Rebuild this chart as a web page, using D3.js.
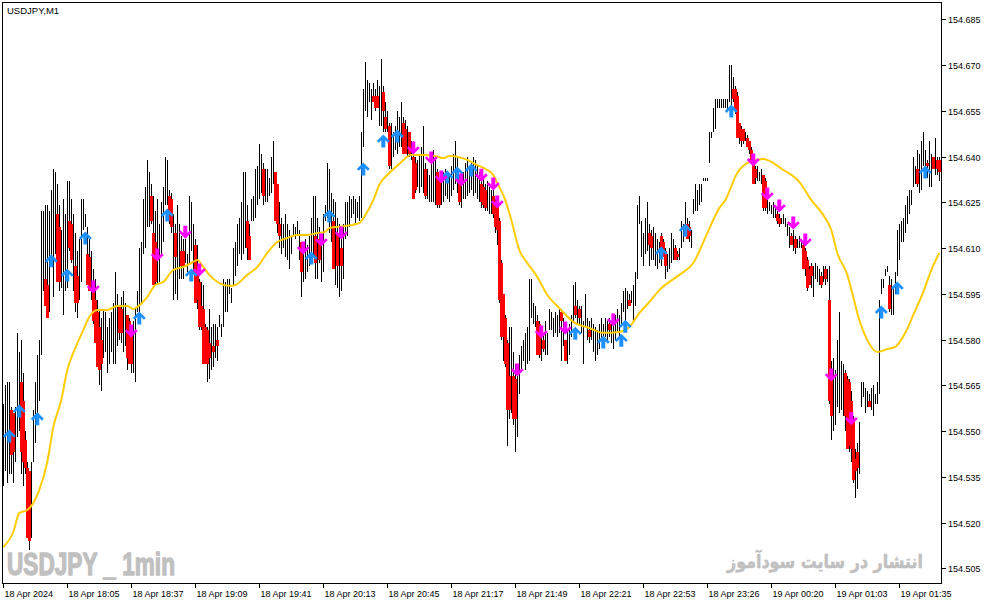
<!DOCTYPE html>
<html><head><meta charset="utf-8">
<script src="https://cdn.jsdelivr.net/npm/d3@7"></script>
<style>body{margin:0;background:#fff;}svg{display:block}</style>
</head><body>
<svg id="c" width="987" height="605"></svg>
<script>
// price = BASE + pts * PT
const BASE = 154.500, PT = 0.001;
const symbolTitle = "USDJPY,M1";
const highPts = [
59,65,66,66,58,55,58,82,76,80,
69,50,40,37,40,57,66,75,80,122,
122,124,124,122,129,136,135,131,124,116,
126,121,132,132,126,121,115,109,113,126,
126,121,117,113,109,103,100,93,90,87,
90,89,84,87,89,92,102,95,91,94,
96,92,88,87,84,86,90,96,110,112,
126,130,139,135,131,127,122,126,118,125,
130,140,139,129,128,121,118,124,118,114,
113,113,108,127,125,118,113,111,100,99,
98,85,84,90,84,85,85,84,88,85,
100,99,100,100,97,110,112,118,120,125,
135,135,124,118,126,127,136,137,144,141,
138,136,136,133,140,145,135,131,125,120,
118,121,118,116,114,118,117,119,116,112,
108,113,111,114,120,127,127,120,117,112,
121,124,138,136,128,126,125,120,118,115,
118,125,125,127,126,127,126,125,127,148,
162,171,165,164,162,164,162,165,163,172,
163,158,155,151,151,148,150,155,153,158,
153,152,150,148,145,144,140,139,141,143,
150,138,136,134,140,142,139,136,133,134,
135,136,135,134,137,141,145,140,134,132,
135,138,140,137,138,140,139,137,135,134,
133,131,132,130,129,129,126,125,120,106,
95,88,80,84,84,76,72,70,75,78,
80,82,84,100,100,92,91,88,86,84,
82,86,82,90,89,87,89,88,90,90,
87,80,83,85,88,98,99,93,91,91,
86,95,87,86,87,85,84,83,85,87,
85,87,86,87,86,86,88,90,88,92,
96,97,96,95,96,98,102,124,127,119,
115,120,125,118,116,117,115,113,112,115,
113,110,108,110,115,113,111,109,110,119,
118,125,120,119,116,126,131,129,131,131,
133,133,133,148,148,156,159,159,159,159,
159,159,159,170,170,166,163,161,151,150,
149,148,147,145,143,140,137,137,135,136,
134,133,126,125,124,125,123,122,121,120,
121,120,118,117,115,116,114,113,114,113,
112,110,107,104,105,104,105,104,103,102,
104,104,103,104,73,74,70,80,89,73,
72,70,68,67,63,55,44,46,53,66,
66,64,63,62,64,65,62,66,93,100,
100,103,104,101,100,97,102,116,118,119,
120,124,127,129,129,140,137,142,141,145,
148,142,139,145,141,140,146,140,140];
const lowPts = [
32,37,33,36,36,33,40,48,50,36,
32,36,15,11,15,40,46,53,60,75,
96,91,87,89,106,94,108,99,96,97,
88,96,97,109,105,96,89,87,93,99,
116,117,98,96,93,85,79,71,65,63,
74,76,69,72,76,72,72,78,80,79,
76,78,70,72,69,69,66,89,85,92,
108,110,117,117,118,98,98,98,99,107,
112,124,124,118,115,93,95,93,100,100,
100,105,102,105,109,102,92,90,83,83,
72,72,66,67,70,71,74,73,84,81,
84,89,89,95,92,98,101,104,108,106,
108,110,106,106,119,119,120,124,126,128,
124,125,125,127,128,131,119,115,110,108,
110,107,106,103,108,114,113,114,106,94,
99,100,102,104,106,108,100,100,105,99,
102,119,120,115,112,106,98,97,94,96,
100,113,114,117,120,121,118,120,119,120,
143,155,153,158,152,158,155,156,150,150,
148,148,148,136,136,140,142,141,143,143,
141,141,140,140,139,126,128,130,128,130,
128,126,126,125,125,125,124,123,123,124,
125,127,126,125,127,129,131,128,124,123,
126,126,127,128,129,127,128,126,125,123,
123,122,122,121,121,120,115,111,92,80,
73,71,45,54,56,52,43,48,62,70,
73,70,72,73,87,85,84,76,74,73,
76,75,75,83,83,81,82,81,82,73,
78,73,72,75,81,86,87,85,85,82,
72,84,80,79,80,76,73,75,77,80,
80,81,79,81,79,77,80,82,81,85,
89,85,90,92,92,86,91,100,118,107,
104,108,109,104,106,106,104,103,105,104,
107,100,102,103,105,106,106,106,106,110,
112,118,113,112,110,121,122,122,124,125,
132,132,132,138,146,148,149,156,156,156,
156,156,155,158,155,158,154,146,144,143,
144,145,143,141,138,131,131,132,132,131,
122,122,121,122,121,120,120,118,117,118,
118,117,114,110,112,109,108,110,110,110,
103,101,96,98,97,94,100,99,98,97,
99,98,99,59,47,50,52,58,56,57,
55,50,44,43,40,33,28,31,36,58,
61,56,58,58,57,55,59,59,62,95,
97,101,102,89,88,88,95,101,106,112,
112,115,118,121,124,130,131,130,128,129,
137,135,133,130,130,136,134,134,132];
// [bar index, top pts, bottom pts] of the red bodies
const redBars = [
[4,57,42],[5,56,43],[9,66,43],[10,60,40],[11,47,38],[12,38,15],[13,37,14],
[21,100,91],[22,98,87],[27,121,99],[28,117,99],[33,119,110],[34,118,106],[36,104,92],[37,101,92],
[42,108,98],[43,107,96],[45,98,86],[46,93,79],[47,89,71],[48,84,70],[49,80,72],
[58,91,82],[59,90,82],[62,88,74],[63,86,72],[64,82,72],
[74,127,119],[75,115,98],[76,112,99],[83,127,119],[84,126,117],[86,115,107],[89,109,104],[90,109,104],
[96,111,92],[97,104,93],[98,99,84],[99,91,84],[100,90,72],[101,84,72],[102,83,72],[103,79,74],[105,78,76],[107,80,78],
[122,119,110],[123,114,106],[130,136,127],[136,135,119],[137,131,118],[138,118,114],
[149,112,102],[156,114,105],[158,113,106],[165,119,103],[167,115,104],[169,110,104],
[185,160,158],[186,160,156],[187,160,156],[190,161,155],[191,153,149],[193,150,137],
[200,151,141],[201,149,141],[203,148,141],[205,140,126],[206,138,129],[211,136,127],[217,135,124],[218,132,124],
[228,133,125],[239,131,125],[240,130,124],[241,129,123],
[245,127,121],[246,125,117],[247,124,116],[248,119,93],[249,105,81],[250,95,81],[251,87,72],[252,79,57],[253,68,57],[255,68,54],[256,67,54],
[267,86,75],[268,85,75],[270,80,77],[279,89,86],[281,80,73],[286,91,88],[288,90,87],[293,83,81],[303,85,83],[313,93,91],
[323,115,111],[324,114,110],[329,114,110],[330,112,107],[331,109,104],[336,110,106],[337,108,107],[342,118,113],[343,117,114],
[365,162,159],[366,162,155],[367,160,146],[368,151,146],[369,149,145],[370,149,145],[372,146,143],[373,145,142],[374,142,138],[375,138,131],[376,136,133],
[380,134,123],[381,132,123],[387,121,119],[388,120,118],[394,114,111],[396,113,110],
[400,111,103],[401,109,103],[402,106,97],[403,103,98],[404,104,101],[409,101,98],[411,103,100],
[413,93,60],[414,70,55],[421,69,55],[422,67,44],[423,66,45],[424,60,44],[425,54,34],[426,41,37],[427,43,38],[433,60,58],
[443,98,90],[457,136,131],[462,138,137],[465,140,136],[467,139,136],[468,139,135]];
// moving average, read at these bar indices
const maIdx = [0,5,8,12,15,18,22,25,29,32,36,40,43,47,52,57,62,65,67,72,76,80,85,90,94,97,100,103,108,113,116,122,127,132,137,142,147,152,157,161,163,171,178,181,185,188,193,198,204,211,216,220,223,228,232,237,242,245,247,251,254,258,262,267,272,278,285,293,300,308,313,318,323,328,338,345,352,358,361,367,373,380,390,398,404,410,414,417,422,425,428,432,437,442,446,451,455,460,464,468];
const maPts = [12.0,16.9,23.1,24.1,26.4,30.7,39.9,51.3,60.2,70.0,77.2,83.1,87.4,89.7,89.7,91.0,91.0,90.0,90.7,94.0,97.9,98.9,102.8,103.8,105.1,106.1,103.8,101.2,98.5,97.6,97.9,101.2,103.8,108.4,112.0,113.3,114.3,114.3,114.9,115.3,116.6,117.2,118.2,120.8,125.7,130.7,134.6,137.6,140.5,140.5,140.2,139.5,140.2,139.8,138.9,137.2,135.6,133.9,131.3,125.7,119.2,109.4,105.1,100.5,94.6,90.3,85.8,83.8,82.2,82.5,84.1,88.7,92.3,96.2,101.2,105.1,114.9,123.1,125.7,134.6,138.2,139.2,135.6,131.7,125.7,120.8,115.9,108.4,101.2,93.9,86.4,79.8,75.9,76.9,77.6,82.2,88.1,95.6,102.8,108.4];
// [bar index, pts]
const upArrows = [[3,48.4],[8,56.6],[17,54.0],[24,105.8],[32,101.2],[41,113.3],[68,87.1],[82,120.8],[94,101.2],[154,106.7],[163,120.5],[180,135.9],[190,145.1],[197,146.7],[222,133.3],[227,134.6],[234,135.6],[286,82.1],[300,79.2],[309,79.8],[311,84.4],[329,108.4],[341,115.9],[364,154.9],[439,89.0],[447,96.9],[461,134.9]];
const downArrows = [[45,97.2],[64,82.8],[77,107.7],[91,115.2],[98,102.8],[150,110.0],[159,112.6],[169,114.9],[205,142.8],[214,139.5],[219,133.3],[229,132.3],[239,133.9],[245,131.0],[247,125.1],[257,70.0],[269,82.5],[281,83.8],[305,86.4],[375,138.9],[382,127.7],[388,123.8],[395,118.2],[401,112.6],[414,68.4],[424,54.0]];
const yTicks = [154.505,154.520,154.535,154.550,154.565,154.580,154.595,154.610,154.625,154.640,154.655,154.670,154.685];
const xTickIdx = [0,32,64,96,128,160,192,224,256,288,320,352,384,416,448];
const xTickLabels = ["18 Apr 2024","18 Apr 18:05","18 Apr 18:37","18 Apr 19:09","18 Apr 19:41","18 Apr 20:13","18 Apr 20:45","18 Apr 21:17","18 Apr 21:49","18 Apr 22:21","18 Apr 22:53","18 Apr 23:26","19 Apr 00:20","19 Apr 01:03","19 Apr 01:35"];
const watermark1 = "USDJPY _ 1min";
const watermark2 = "انتشار در سایت سودآموز";

const svg = d3.select("#c");
const L = 2, R = 941, T = 2, B = 583;
const xs = d3.scaleLinear().domain([0, 468]).range([3.3, 939.3]);
const ys = d3.scaleLinear().domain([154.505, 154.685]).range([568.3, 19.3]);
const P = p => BASE + p * PT;
const font = "'Liberation Sans', Arial, sans-serif";

svg.append("rect").attr("width",987).attr("height",605).attr("fill","#fff");

// watermarks, horizontally fitted to the reference widths
function fitted(str, left, width, baseline, size, fam, weight, sw){
  const g = svg.append("g");
  const t = g.append("text").attr("x",0).attr("y",0).attr("font-family",fam).attr("font-weight",weight)
    .attr("font-size",size).attr("fill","#c0c0c0").attr("stroke","#c0c0c0").attr("stroke-width",sw)
    .attr("stroke-linejoin","round").text(str);
  const w = t.node().getComputedTextLength() || width;
  g.attr("transform",`translate(${left},${baseline}) scale(${width/w},1)`);
}
fitted(watermark1, 7, 168, 575, 31, "'Liberation Sans Narrow','Liberation Sans',Arial,sans-serif", "bold", 1.4);
fitted(watermark2, 727, 196, 568, 19, "'DejaVu Sans',sans-serif", "bold", 0.5);

// bars
const idx = d3.range(highPts.length);
svg.append("g").selectAll("rect").data(idx).join("rect")
  .attr("x", i => Math.round(xs(i))).attr("width",1)
  .attr("y", i => Math.round(ys(P(highPts[i]))))
  .attr("height", i => Math.max(1, Math.round(ys(P(lowPts[i]))) - Math.round(ys(P(highPts[i])))))
  .attr("fill","#000");
svg.append("g").selectAll("rect").data(redBars).join("rect")
  .attr("x", d => Math.round(xs(d[0])) - 1).attr("width",3)
  .attr("y", d => Math.round(ys(P(d[1]))))
  .attr("height", d => Math.max(1, Math.round(ys(P(d[2]))) - Math.round(ys(P(d[1])))))
  .attr("fill","#ff0000");

// MA
const ma = maIdx.map((d,k)=>[d, maPts[k]]);
svg.append("path").datum(ma)
  .attr("d", d3.line().x(d=>xs(d[0])).y(d=>ys(P(d[1]))).curve(d3.curveMonotoneX))
  .attr("fill","none").attr("stroke","#ffcc00").attr("stroke-width",2);

// arrows
function upPath(cx, cy){
  return `M${cx},${cy-6.5}L${cx+6.5},${cy}L${cx+4.5},${cy+1.8}L${cx+2},${cy-0.8}L${cx+2},${cy+6.5}L${cx-2},${cy+6.5}L${cx-2},${cy-0.8}L${cx-4.5},${cy+1.8}L${cx-6.5},${cy}Z`;
}
function downPath(cx, cy){
  return `M${cx},${cy+6.5}L${cx+6.5},${cy}L${cx+4.5},${cy-1.8}L${cx+2},${cy+0.8}L${cx+2},${cy-6.5}L${cx-2},${cy-6.5}L${cx-2},${cy+0.8}L${cx-4.5},${cy-1.8}L${cx-6.5},${cy}Z`;
}
svg.append("g").selectAll("path").data(upArrows).join("path")
  .attr("d", d => upPath(xs(d[0]), ys(P(d[1])))).attr("fill","#1e90ff");
svg.append("g").selectAll("path").data(downArrows).join("path")
  .attr("d", d => downPath(xs(d[0]), ys(P(d[1])))).attr("fill","#ff00ff");

// frame
const fr = svg.append("g").attr("stroke","#000").attr("stroke-width",1).attr("shape-rendering","crispEdges");
fr.append("line").attr("x1",L).attr("x2",R+1).attr("y1",T+0.5).attr("y2",T+0.5);
fr.append("line").attr("x1",L).attr("x2",R+1).attr("y1",B+0.5).attr("y2",B+0.5);
fr.append("line").attr("x1",L+0.5).attr("x2",L+0.5).attr("y1",T).attr("y2",B+1);
fr.append("line").attr("x1",R+0.5).attr("x2",R+0.5).attr("y1",T).attr("y2",B+1);

// y axis
const yg = svg.append("g");
yTicks.forEach(v => {
  const y = Math.round(ys(v)) + 0.5;
  yg.append("line").attr("x1",R+1).attr("x2",R+5).attr("y1",y).attr("y2",y).attr("stroke","#000").attr("shape-rendering","crispEdges");
  yg.append("text").attr("x",948).attr("y",y+3.3).attr("font-family",font).attr("font-size",9).attr("fill","#000").text(d3.format(".3f")(v));
});
// x axis
const xg = svg.append("g");
xTickIdx.forEach((i,k) => {
  const x = Math.round(xs(i)) + 0.5;
  xg.append("line").attr("x1",x).attr("x2",x).attr("y1",B+1).attr("y2",B+5).attr("stroke","#000").attr("shape-rendering","crispEdges");
  xg.append("text").attr("x",x+1).attr("y",597).attr("font-family",font).attr("font-size",9).attr("fill","#000").text(xTickLabels[k]);
});
// title
svg.append("text").attr("x",7).attr("y",14).attr("font-family",font).attr("font-size",9.5).attr("fill","#000").text(symbolTitle);
</script>
</body></html>
